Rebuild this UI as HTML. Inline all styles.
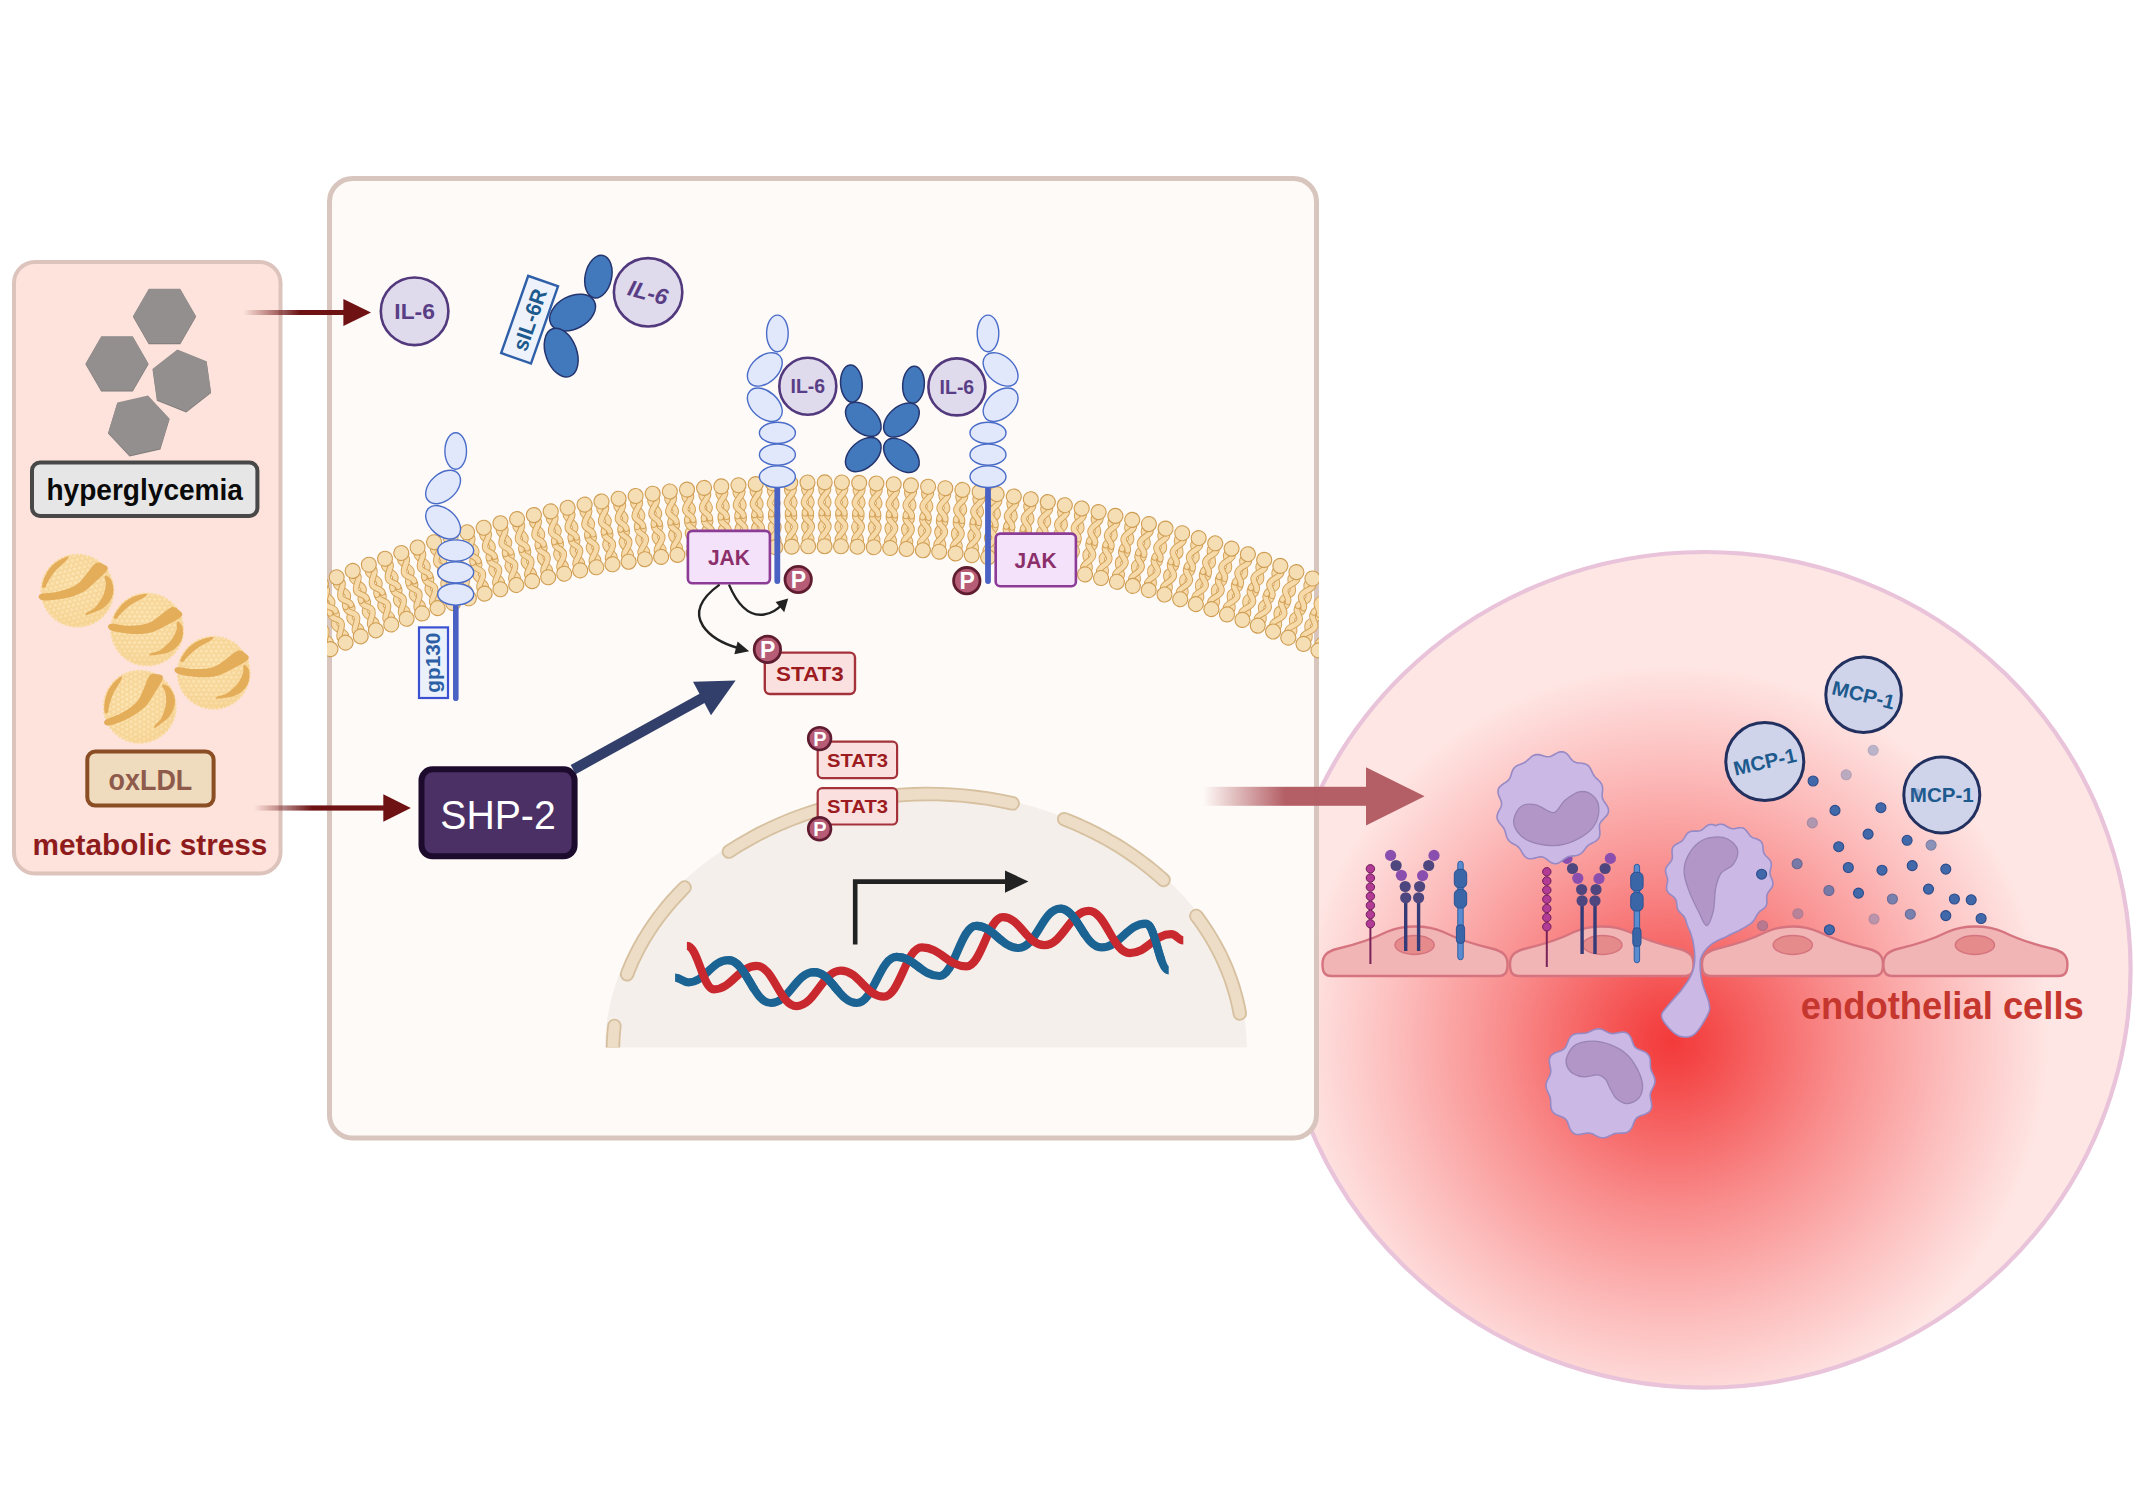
<!DOCTYPE html>
<html><head><meta charset="utf-8"><title>SHP-2 / IL-6 signalling under metabolic stress</title>
<style>
html,body{margin:0;padding:0;background:#ffffff;}
body{width:2141px;height:1498px;overflow:hidden;}
svg{display:block;}
text{font-family:"Liberation Sans",sans-serif;}
.b{font-weight:bold;}
</style></head><body>
<svg width="2141" height="1498" viewBox="0 0 2141 1498">
<defs>
<radialGradient id="glow" gradientUnits="userSpaceOnUse" cx="1672" cy="1042" r="375">
<stop offset="0" stop-color="#f33a3b"/><stop offset="0.08" stop-color="#f44646"/><stop offset="0.45" stop-color="#f98d8d"/><stop offset="0.75" stop-color="#fcbfbe"/><stop offset="1" stop-color="#fee5e3"/></radialGradient>
<clipPath id="circClip"><ellipse cx="1704.6" cy="969.8" rx="425" ry="416.8"/></clipPath>
<linearGradient id="fadeR1" gradientUnits="userSpaceOnUse" x1="243" y1="0" x2="300" y2="0"><stop offset="0" stop-color="#6e1214" stop-opacity="0"/><stop offset="1" stop-color="#6e1214"/></linearGradient>
<linearGradient id="fadeR2" gradientUnits="userSpaceOnUse" x1="254" y1="0" x2="312" y2="0"><stop offset="0" stop-color="#6e1214" stop-opacity="0"/><stop offset="1" stop-color="#6e1214"/></linearGradient>
<linearGradient id="fadeBig" gradientUnits="userSpaceOnUse" x1="1203" y1="0" x2="1285" y2="0"><stop offset="0" stop-color="#b25b62" stop-opacity="0"/><stop offset="1" stop-color="#b25b62"/></linearGradient>
<clipPath id="cellClip"><rect x="327" y="176" width="992" height="965"/></clipPath>
<radialGradient id="ldlG" cx="0.45" cy="0.4" r="0.65"><stop offset="0" stop-color="#fde7b6"/><stop offset="0.7" stop-color="#fbe0aa"/><stop offset="1" stop-color="#f8d89c"/></radialGradient>
<pattern id="bub" width="5" height="8.66" patternUnits="userSpaceOnUse"><circle cx="0" cy="0" r="2.3" fill="none" stroke="#f2cb85" stroke-width="0.6"/><circle cx="5" cy="0" r="2.3" fill="none" stroke="#f2cb85" stroke-width="0.6"/><circle cx="2.5" cy="4.33" r="2.3" fill="none" stroke="#f2cb85" stroke-width="0.6"/><circle cx="0" cy="8.66" r="2.3" fill="none" stroke="#f2cb85" stroke-width="0.6"/><circle cx="5" cy="8.66" r="2.3" fill="none" stroke="#f2cb85" stroke-width="0.6"/></pattern>
<g id="ldl"><circle r="35.3" fill="#fadda4" stroke="#f8d99e" stroke-width="3.6" stroke-dasharray="0.01 3.96" stroke-linecap="round"/><circle r="35.6" fill="url(#ldlG)"/><circle r="35.6" fill="url(#bub)"/><path d="M-37,-5.5C-34,-6.3 -24.7,-3.6 -18.5,-3.7C-12.3,-3.8 -5.2,-4.2 0,-5.9C5.2,-7.6 8.9,-11.3 12.9,-14.1C17,-16.8 21.3,-21.3 24.4,-22.2C27.6,-23.1 30.2,-20.7 31.8,-19.2C33.5,-17.8 36.6,-15.9 34.4,-13.3C32.2,-10.7 23.6,-6.4 18.5,-3.7C13.4,-1 9.2,1.6 3.7,3C-1.8,4.3 -8.1,4.8 -14.8,4.4C-21.5,4.1 -32.6,2.4 -36.3,0.7C-40,-0.9 -40,-4.8 -37,-5.5Z" fill="#e4ad5a"/><path d="M-33.4,-12.1C-33.4,-13.3 -31.8,-16 -30.8,-17.8C-29.7,-19.5 -28.5,-21.3 -27.2,-22.8C-25.9,-24.4 -24.4,-25.9 -22.8,-27.2C-21.3,-28.5 -19.5,-29.7 -17.8,-30.8C-16,-31.8 -14.1,-32.7 -12.1,-33.4C-10.2,-34.1 -8.2,-34.6 -6.2,-35C-4.1,-35.3 -0.4,-36 -0,-35.5C0.4,-35 -0.9,-33.7 -3.7,-31.8C-6.5,-30 -12.8,-27.1 -16.7,-24.4C-20.5,-21.7 -24.4,-17.8 -26.6,-15.5C-28.9,-13.3 -29.2,-11.7 -30.3,-11.1C-31.5,-10.5 -33.3,-11 -33.4,-12.1Z" fill="#e4ad5a"/><path d="M30.7,-8.1C31.6,-7.7 34.4,-5.6 35.1,-3C35.9,-0.4 36.1,4.2 35.3,7.4C34.6,10.6 33.2,13.6 30.7,16.3C28.2,18.9 24.9,21.7 20.4,23.3C15.8,24.9 6.5,25.8 3.7,25.9C0.9,26 2.1,24.6 3.7,23.7C5.3,22.8 10,22.4 13.3,20.4C16.6,18.3 21,14.4 23.7,11.1C26.3,7.8 28.2,3.5 29.2,0.7C30.2,-2 29.4,-4.1 29.6,-5.5C29.8,-7 29.8,-8.6 30.7,-8.1Z" fill="#e4ad5a"/></g>
<g id="L"><g fill="none" stroke-linecap="round"><path d="M-3,6C-4.8,11 4.3,14.5 3.6,20.5C3.1,25 -3.3,26 -3,30.8" stroke="#d3a158" stroke-width="6.5"/><path d="M-3,6C-4.8,11 4.3,14.5 3.6,20.5C3.1,25 -3.3,26 -3,30.8" stroke="#f6daa9" stroke-width="4.6"/><path d="M3.2,6C4.8,10.5 -4.5,14.5 -3.8,20.5C-3.3,25 3.1,26 3,30.8" stroke="#d3a158" stroke-width="6.5"/><path d="M3.2,6C4.8,10.5 -4.5,14.5 -3.8,20.5C-3.3,25 3.1,26 3,30.8" stroke="#f6daa9" stroke-width="4.6"/></g><circle r="7.5" fill="#f5ddb4" stroke="#cf9d52" stroke-width="1.1"/></g>
<g id="gpL" fill="#e1e8fb" stroke="#4a6cc9" stroke-width="1.4"><ellipse cx="0" cy="-154.5" rx="10.8" ry="18.3"/><ellipse cx="-12.6" cy="-118.5" rx="20.2" ry="13.2" transform="rotate(-42 -12.6 -118.5)"/><ellipse cx="-12.6" cy="-83.2" rx="20.2" ry="13.2" transform="rotate(42 -12.6 -83.2)"/><ellipse cx="0" cy="-55" rx="18" ry="10.6"/><ellipse cx="0" cy="-33.2" rx="18" ry="10.6"/><ellipse cx="0" cy="-11.2" rx="18" ry="10.8"/></g>
<g id="P14"><circle r="13.2" fill="#b65c77" stroke="#5f1c30" stroke-width="2.8"/><text x="0.3" y="8.2" font-size="23" font-weight="bold" fill="#ffffff" text-anchor="middle">P</text></g>
<g id="P12"><circle r="11.4" fill="#b65c77" stroke="#5f1c30" stroke-width="2.6"/><text x="0.2" y="7.2" font-size="20" font-weight="bold" fill="#ffffff" text-anchor="middle">P</text></g>
</defs>
<ellipse cx="1704.6" cy="969.8" rx="426" ry="417.8" fill="#fee6e4"/>
<circle cx="1672" cy="1042" r="375" fill="url(#glow)" clip-path="url(#circClip)"/>
<ellipse cx="1704.6" cy="969.8" rx="426" ry="417.8" fill="none" stroke="#e9c3d9" stroke-width="4.2"/>
<rect x="14" y="262" width="266.5" height="611.5" rx="21" ry="21" fill="#fee3dc" stroke="#dcc4bd" stroke-width="4"/>
<polygon points="196.1,316.8 180.3,344.2 148.7,344.2 132.9,316.8 148.7,289.4 180.3,289.4" fill="#7f7b7a"/><polygon points="195.9,316 180.2,343.2 148.8,343.2 133.1,316 148.8,288.8 180.2,288.8" fill="#938f8e"/>
<polygon points="148.6,364.2 132.8,391.6 101.2,391.6 85.4,364.2 101.2,336.8 132.8,336.8" fill="#7f7b7a"/><polygon points="148.4,363.4 132.7,390.6 101.3,390.6 85.6,363.4 101.3,336.2 132.7,336.2" fill="#938f8e"/>
<polygon points="211.1,393.1 186.2,412.6 156.9,400.8 152.5,369.5 177.4,350 206.7,361.8" fill="#7f7b7a"/><polygon points="210.9,392.3 186.2,411.6 157.1,399.8 152.7,368.7 177.4,349.4 206.5,361.2" fill="#938f8e"/>
<polygon points="169.6,419.3 160.4,449.5 129.6,456.6 108,433.5 117.2,403.3 148,396.2" fill="#7f7b7a"/><polygon points="169.4,418.5 160.2,448.6 129.6,455.6 108.2,432.7 117.4,402.6 148,395.6" fill="#938f8e"/>
<rect x="32" y="462.6" width="225.4" height="53.4" rx="8" ry="8" fill="#e6e6e6" stroke="#484848" stroke-width="4"/>
<text x="144.7" y="500" font-size="29.5" fill="#0a0a0a" text-anchor="middle" font-weight="bold" textLength="196.6" lengthAdjust="spacingAndGlyphs">hyperglycemia</text>
<use href="#ldl" transform="translate(77.4 590.7) rotate(-14)"/>
<use href="#ldl" transform="translate(147.2 629.5) rotate(0)"/>
<use href="#ldl" transform="translate(213.7 672.8) rotate(0)"/>
<use href="#ldl" transform="translate(139.8 706.8) rotate(-30)"/>
<rect x="87.3" y="751.6" width="126.3" height="54" rx="8" ry="8" fill="#efdbbd" stroke="#8a4d24" stroke-width="4"/>
<text x="150.4" y="790" font-size="30" fill="#8d5a4b" text-anchor="middle" font-weight="bold" textLength="83.7" lengthAdjust="spacingAndGlyphs">oxLDL</text>
<text x="150" y="855.4" font-size="29.5" fill="#8f1c1d" text-anchor="middle" font-weight="bold" textLength="234.8" lengthAdjust="spacingAndGlyphs">metabolic stress</text>
<rect x="329.5" y="178.5" width="987" height="959.5" rx="23" ry="23" fill="#fefaf7" stroke="#d8c6be" stroke-width="5"/>
<g clip-path="url(#cellClip)">
<use href="#L" transform="translate(330.4 649.1) rotate(156.40)"/><use href="#L" transform="translate(345.5 642.6) rotate(157.16)"/><use href="#L" transform="translate(360.7 636.4) rotate(157.93)"/><use href="#L" transform="translate(375.9 630.3) rotate(158.69)"/><use href="#L" transform="translate(391.2 624.5) rotate(159.45)"/><use href="#L" transform="translate(406.6 618.8) rotate(160.22)"/><use href="#L" transform="translate(422.1 613.4) rotate(160.98)"/><use href="#L" transform="translate(437.6 608.1) rotate(161.74)"/><use href="#L" transform="translate(453.2 603.1) rotate(162.51)"/><use href="#L" transform="translate(468.9 598.3) rotate(163.27)"/><use href="#L" transform="translate(484.6 593.6) rotate(164.04)"/><use href="#L" transform="translate(500.4 589.2) rotate(164.80)"/><use href="#L" transform="translate(516.3 585) rotate(165.56)"/><use href="#L" transform="translate(532.2 581.1) rotate(166.33)"/><use href="#L" transform="translate(548.2 577.3) rotate(167.09)"/><use href="#L" transform="translate(564.2 573.7) rotate(167.85)"/><use href="#L" transform="translate(580.2 570.4) rotate(168.62)"/><use href="#L" transform="translate(596.3 567.3) rotate(169.38)"/><use href="#L" transform="translate(612.5 564.3) rotate(170.15)"/><use href="#L" transform="translate(628.6 561.7) rotate(170.91)"/><use href="#L" transform="translate(644.9 559.2) rotate(171.67)"/><use href="#L" transform="translate(661.1 556.9) rotate(172.44)"/><use href="#L" transform="translate(677.4 554.9) rotate(173.20)"/><use href="#L" transform="translate(693.7 553) rotate(173.96)"/><use href="#L" transform="translate(710 551.4) rotate(174.73)"/><use href="#L" transform="translate(726.3 550) rotate(175.49)"/><use href="#L" transform="translate(742.7 548.8) rotate(176.26)"/><use href="#L" transform="translate(759 547.9) rotate(177.02)"/><use href="#L" transform="translate(775.4 547.1) rotate(177.78)"/><use href="#L" transform="translate(791.8 546.6) rotate(178.55)"/><use href="#L" transform="translate(808.2 546.3) rotate(179.31)"/><use href="#L" transform="translate(824.6 546.2) rotate(180.08)"/><use href="#L" transform="translate(841 546.3) rotate(180.84)"/><use href="#L" transform="translate(857.4 546.7) rotate(181.60)"/><use href="#L" transform="translate(873.8 547.2) rotate(182.37)"/><use href="#L" transform="translate(890.2 548) rotate(183.13)"/><use href="#L" transform="translate(906.5 549) rotate(183.89)"/><use href="#L" transform="translate(922.9 550.3) rotate(184.66)"/><use href="#L" transform="translate(939.2 551.7) rotate(185.42)"/><use href="#L" transform="translate(955.6 553.4) rotate(186.19)"/><use href="#L" transform="translate(971.8 555.2) rotate(186.95)"/><use href="#L" transform="translate(988.1 557.3) rotate(187.71)"/><use href="#L" transform="translate(1004.3 559.6) rotate(188.48)"/><use href="#L" transform="translate(1020.6 562.2) rotate(189.24)"/><use href="#L" transform="translate(1036.7 564.9) rotate(190.00)"/><use href="#L" transform="translate(1052.9 567.9) rotate(190.77)"/><use href="#L" transform="translate(1068.9 571) rotate(191.53)"/><use href="#L" transform="translate(1085 574.4) rotate(192.30)"/><use href="#L" transform="translate(1101 578) rotate(193.06)"/><use href="#L" transform="translate(1116.9 581.8) rotate(193.82)"/><use href="#L" transform="translate(1132.8 585.9) rotate(194.59)"/><use href="#L" transform="translate(1148.7 590.1) rotate(195.35)"/><use href="#L" transform="translate(1164.5 594.5) rotate(196.11)"/><use href="#L" transform="translate(1180.2 599.2) rotate(196.88)"/><use href="#L" transform="translate(1195.8 604.1) rotate(197.64)"/><use href="#L" transform="translate(1211.4 609.1) rotate(198.41)"/><use href="#L" transform="translate(1227 614.4) rotate(199.17)"/><use href="#L" transform="translate(1242.4 619.9) rotate(199.93)"/><use href="#L" transform="translate(1257.8 625.6) rotate(200.70)"/><use href="#L" transform="translate(1273.1 631.5) rotate(201.46)"/><use href="#L" transform="translate(1288.3 637.6) rotate(202.23)"/><use href="#L" transform="translate(1303.5 643.9) rotate(202.99)"/><use href="#L" transform="translate(1318.5 650.4) rotate(203.75)"/>
<use href="#L" transform="translate(304.9 590.6) rotate(-23.60)"/><use href="#L" transform="translate(320.8 583.8) rotate(-22.84)"/><use href="#L" transform="translate(336.7 577.3) rotate(-22.07)"/><use href="#L" transform="translate(352.7 570.9) rotate(-21.31)"/><use href="#L" transform="translate(368.8 564.7) rotate(-20.55)"/><use href="#L" transform="translate(385 558.8) rotate(-19.78)"/><use href="#L" transform="translate(401.3 553) rotate(-19.02)"/><use href="#L" transform="translate(417.6 547.5) rotate(-18.26)"/><use href="#L" transform="translate(434.1 542.2) rotate(-17.49)"/><use href="#L" transform="translate(450.5 537.2) rotate(-16.73)"/><use href="#L" transform="translate(467.1 532.3) rotate(-15.96)"/><use href="#L" transform="translate(483.7 527.7) rotate(-15.20)"/><use href="#L" transform="translate(500.4 523.3) rotate(-14.44)"/><use href="#L" transform="translate(517.1 519.1) rotate(-13.67)"/><use href="#L" transform="translate(533.9 515.1) rotate(-12.91)"/><use href="#L" transform="translate(550.7 511.4) rotate(-12.15)"/><use href="#L" transform="translate(567.6 507.8) rotate(-11.38)"/><use href="#L" transform="translate(584.6 504.6) rotate(-10.62)"/><use href="#L" transform="translate(601.5 501.5) rotate(-9.85)"/><use href="#L" transform="translate(618.6 498.7) rotate(-9.09)"/><use href="#L" transform="translate(635.6 496) rotate(-8.33)"/><use href="#L" transform="translate(652.7 493.7) rotate(-7.56)"/><use href="#L" transform="translate(669.8 491.5) rotate(-6.80)"/><use href="#L" transform="translate(687 489.6) rotate(-6.04)"/><use href="#L" transform="translate(704.1 487.9) rotate(-5.27)"/><use href="#L" transform="translate(721.3 486.4) rotate(-4.51)"/><use href="#L" transform="translate(738.5 485.2) rotate(-3.74)"/><use href="#L" transform="translate(755.7 484.1) rotate(-2.98)"/><use href="#L" transform="translate(773 483.4) rotate(-2.22)"/><use href="#L" transform="translate(790.2 482.8) rotate(-1.45)"/><use href="#L" transform="translate(807.5 482.5) rotate(-0.69)"/><use href="#L" transform="translate(824.7 482.4) rotate(0.08)"/><use href="#L" transform="translate(841.9 482.5) rotate(0.84)"/><use href="#L" transform="translate(859.2 482.9) rotate(1.60)"/><use href="#L" transform="translate(876.4 483.5) rotate(2.37)"/><use href="#L" transform="translate(893.7 484.3) rotate(3.13)"/><use href="#L" transform="translate(910.9 485.4) rotate(3.89)"/><use href="#L" transform="translate(928.1 486.7) rotate(4.66)"/><use href="#L" transform="translate(945.3 488.2) rotate(5.42)"/><use href="#L" transform="translate(962.4 489.9) rotate(6.19)"/><use href="#L" transform="translate(979.6 491.9) rotate(6.95)"/><use href="#L" transform="translate(996.7 494.1) rotate(7.71)"/><use href="#L" transform="translate(1013.8 496.5) rotate(8.48)"/><use href="#L" transform="translate(1030.8 499.2) rotate(9.24)"/><use href="#L" transform="translate(1047.8 502.1) rotate(10.00)"/><use href="#L" transform="translate(1064.8 505.2) rotate(10.77)"/><use href="#L" transform="translate(1081.7 508.5) rotate(11.53)"/><use href="#L" transform="translate(1098.6 512.1) rotate(12.30)"/><use href="#L" transform="translate(1115.4 515.9) rotate(13.06)"/><use href="#L" transform="translate(1132.2 519.9) rotate(13.82)"/><use href="#L" transform="translate(1148.9 524.1) rotate(14.59)"/><use href="#L" transform="translate(1165.6 528.6) rotate(15.35)"/><use href="#L" transform="translate(1182.2 533.2) rotate(16.11)"/><use href="#L" transform="translate(1198.7 538.1) rotate(16.88)"/><use href="#L" transform="translate(1215.2 543.3) rotate(17.64)"/><use href="#L" transform="translate(1231.6 548.6) rotate(18.41)"/><use href="#L" transform="translate(1247.9 554.2) rotate(19.17)"/><use href="#L" transform="translate(1264.2 559.9) rotate(19.93)"/><use href="#L" transform="translate(1280.3 565.9) rotate(20.70)"/><use href="#L" transform="translate(1296.4 572.1) rotate(21.46)"/><use href="#L" transform="translate(1312.5 578.5) rotate(22.23)"/><use href="#L" transform="translate(1328.4 585.2) rotate(22.99)"/><use href="#L" transform="translate(1344.2 592) rotate(23.75)"/>
</g>
<circle cx="414.6" cy="311.3" r="33.8" fill="#dfdaec" stroke="#52397d" stroke-width="2.6"/><text x="414.6" y="319.4" font-size="22.5" fill="#593e86" text-anchor="middle" font-weight="bold" textLength="40.6" lengthAdjust="spacingAndGlyphs">IL-6</text>
<g transform="rotate(-70.7 529.6 319.7)"><rect x="488.7" y="303.9" width="81.8" height="31.6" fill="#eef3fb" stroke="#2f5fa8" stroke-width="2.4"/><text x="529.6" y="327.3" font-size="21.5" fill="#1d5a8e" text-anchor="middle" font-weight="bold" textLength="64" lengthAdjust="spacingAndGlyphs">sIL-6R</text>
</g>
<g fill="#4279bd" stroke="#24356f" stroke-width="1.5"><ellipse cx="598.4" cy="276.6" rx="13.2" ry="21.6" transform="rotate(12 598.4 276.6)"/><ellipse cx="572.6" cy="312.6" rx="24.5" ry="16.3" transform="rotate(-28 572.6 312.6)"/><ellipse cx="561.2" cy="352.6" rx="15.5" ry="25.3" transform="rotate(-20 561.2 352.6)"/></g>
<circle cx="648.1" cy="292.3" r="34.2" fill="#dfdaec" stroke="#52397d" stroke-width="2.6"/><text x="648.1" y="300.4" font-size="22.5" fill="#593e86" text-anchor="middle" font-weight="bold" textLength="40.6" lengthAdjust="spacingAndGlyphs" transform="rotate(15 648.1 292.3)" font-style="italic">IL-6</text>
<rect x="453" y="600" width="5.6" height="101" rx="2.8" fill="#4a62c4"/><use href="#gpL" transform="translate(455.7 605.5)"/>
<rect x="419" y="627.4" width="29" height="70.6" fill="#eaf1fb" stroke="#3c50d2" stroke-width="2.2"/><text x="433.5" y="662.7" font-size="19.5" fill="#2c5fa6" text-anchor="middle" font-weight="bold" textLength="60" lengthAdjust="spacingAndGlyphs" transform="rotate(-90 433.5 662.7)" dy="6.5">gp130</text>

<rect x="774.4" y="484" width="5.8" height="100" rx="2.9" fill="#4a62c4"/><rect x="985.1" y="484" width="5.8" height="100" rx="2.9" fill="#4a62c4"/><use href="#gpL" transform="translate(777.4 487.9)"/><use href="#gpL" transform="translate(988 487.9) scale(-1 1)"/>
<g fill="#4279bd" stroke="#24356f" stroke-width="1.5"><ellipse cx="851.4" cy="383.6" rx="10.8" ry="18.6" transform="rotate(-4 851.4 383.6)"/><ellipse cx="863.3" cy="419.3" rx="20.8" ry="13.2" transform="rotate(42 863.3 419.3)"/><ellipse cx="863.3" cy="454.6" rx="20.8" ry="13.2" transform="rotate(-42 863.3 454.6)"/><ellipse cx="913.5" cy="384.7" rx="10.8" ry="18.6" transform="rotate(4 913.5 384.7)"/><ellipse cx="901.4" cy="420" rx="20.8" ry="13.2" transform="rotate(-42 901.4 420)"/><ellipse cx="901.4" cy="455.4" rx="20.8" ry="13.2" transform="rotate(42 901.4 455.4)"/></g>
<circle cx="807.8" cy="386.3" r="28.5" fill="#dfdaec" stroke="#52397d" stroke-width="2.6"/><text x="807.8" y="393.3" font-size="19.5" fill="#593e86" text-anchor="middle" font-weight="bold" textLength="34.6" lengthAdjust="spacingAndGlyphs">IL-6</text>
<circle cx="956.9" cy="386.9" r="28.5" fill="#dfdaec" stroke="#52397d" stroke-width="2.6"/><text x="956.9" y="393.9" font-size="19.5" fill="#593e86" text-anchor="middle" font-weight="bold" textLength="34.6" lengthAdjust="spacingAndGlyphs">IL-6</text>
<clipPath id="nucClip"><rect x="590" y="760" width="680" height="287.4"/></clipPath>
<g clip-path="url(#nucClip)"><ellipse cx="926" cy="1050" rx="321" ry="258" fill="#f4efeb"/><path d="M613,1054.5L613,1053.3L613,1052.1L613,1050.9L613,1049.7L613,1048.5L613,1047.3L613,1046.1L613.1,1044.9L613.1,1043.7L613.1,1042.6L613.2,1041.4L613.2,1040.2L613.3,1039L613.4,1037.8L613.4,1036.6L613.5,1035.4L613.6,1034.2L613.7,1033L613.8,1031.8L613.9,1030.7L614,1029.5L614.1,1028.3L614.3,1027.1L614.4,1025.9" fill="none" stroke="#d6c09f" stroke-width="14.4" stroke-linecap="round"/><path d="M627.1,974.3L628.6,970.4L630.3,966.4L631.9,962.5L633.7,958.7L635.6,954.8L637.5,951L639.5,947.2L641.6,943.4L643.7,939.7L646,936L648.3,932.3L650.6,928.6L653.1,925L655.6,921.4L658.2,917.9L660.9,914.3L663.6,910.9L666.4,907.4L669.3,904L672.2,900.6L675.2,897.3L678.3,894L681.4,890.7L684.6,887.5" fill="none" stroke="#d6c09f" stroke-width="14.4" stroke-linecap="round"/><path d="M728.9,851.6L738.8,845.3L749,839.4L759.4,833.7L770.2,828.4L781.2,823.5L792.4,818.9L803.8,814.7L815.5,810.9L827.3,807.4L839.2,804.4L851.4,801.7L863.6,799.4L875.9,797.5L888.3,796L900.8,795L913.3,794.3L925.9,794L938.4,794.1L951,794.7L963.5,795.6L975.9,797L988.3,798.7L1000.6,800.9L1012.7,803.4" fill="none" stroke="#d6c09f" stroke-width="14.4" stroke-linecap="round"/><path d="M1064.1,819.1L1068.8,821L1073.5,822.9L1078.1,824.9L1082.6,827L1087.2,829.1L1091.6,831.3L1096.1,833.5L1100.5,835.8L1104.8,838.1L1109.1,840.6L1113.4,843L1117.6,845.5L1121.7,848.1L1125.8,850.8L1129.8,853.5L1133.8,856.2L1137.8,859L1141.6,861.9L1145.4,864.8L1149.2,867.7L1152.9,870.7L1156.5,873.8L1160.1,876.9L1163.6,880" fill="none" stroke="#d6c09f" stroke-width="14.4" stroke-linecap="round"/><path d="M1196.3,915.9L1199.1,919.6L1201.8,923.4L1204.4,927.2L1206.9,931L1209.4,934.9L1211.7,938.8L1214,942.7L1216.2,946.7L1218.3,950.7L1220.4,954.7L1222.3,958.8L1224.2,962.9L1226,967L1227.7,971.1L1229.3,975.3L1230.8,979.4L1232.2,983.6L1233.6,987.9L1234.8,992.1L1236,996.3L1237.1,1000.6L1238.1,1004.9L1239,1009.2L1239.8,1013.5" fill="none" stroke="#d6c09f" stroke-width="14.4" stroke-linecap="round"/><path d="M613,1054.5L613,1053.3L613,1052.1L613,1050.9L613,1049.7L613,1048.5L613,1047.3L613,1046.1L613.1,1044.9L613.1,1043.7L613.1,1042.6L613.2,1041.4L613.2,1040.2L613.3,1039L613.4,1037.8L613.4,1036.6L613.5,1035.4L613.6,1034.2L613.7,1033L613.8,1031.8L613.9,1030.7L614,1029.5L614.1,1028.3L614.3,1027.1L614.4,1025.9" fill="none" stroke="#eddcc6" stroke-width="10.8" stroke-linecap="round"/><path d="M627.1,974.3L628.6,970.4L630.3,966.4L631.9,962.5L633.7,958.7L635.6,954.8L637.5,951L639.5,947.2L641.6,943.4L643.7,939.7L646,936L648.3,932.3L650.6,928.6L653.1,925L655.6,921.4L658.2,917.9L660.9,914.3L663.6,910.9L666.4,907.4L669.3,904L672.2,900.6L675.2,897.3L678.3,894L681.4,890.7L684.6,887.5" fill="none" stroke="#eddcc6" stroke-width="10.8" stroke-linecap="round"/><path d="M728.9,851.6L738.8,845.3L749,839.4L759.4,833.7L770.2,828.4L781.2,823.5L792.4,818.9L803.8,814.7L815.5,810.9L827.3,807.4L839.2,804.4L851.4,801.7L863.6,799.4L875.9,797.5L888.3,796L900.8,795L913.3,794.3L925.9,794L938.4,794.1L951,794.7L963.5,795.6L975.9,797L988.3,798.7L1000.6,800.9L1012.7,803.4" fill="none" stroke="#eddcc6" stroke-width="10.8" stroke-linecap="round"/><path d="M1064.1,819.1L1068.8,821L1073.5,822.9L1078.1,824.9L1082.6,827L1087.2,829.1L1091.6,831.3L1096.1,833.5L1100.5,835.8L1104.8,838.1L1109.1,840.6L1113.4,843L1117.6,845.5L1121.7,848.1L1125.8,850.8L1129.8,853.5L1133.8,856.2L1137.8,859L1141.6,861.9L1145.4,864.8L1149.2,867.7L1152.9,870.7L1156.5,873.8L1160.1,876.9L1163.6,880" fill="none" stroke="#eddcc6" stroke-width="10.8" stroke-linecap="round"/><path d="M1196.3,915.9L1199.1,919.6L1201.8,923.4L1204.4,927.2L1206.9,931L1209.4,934.9L1211.7,938.8L1214,942.7L1216.2,946.7L1218.3,950.7L1220.4,954.7L1222.3,958.8L1224.2,962.9L1226,967L1227.7,971.1L1229.3,975.3L1230.8,979.4L1232.2,983.6L1233.6,987.9L1234.8,992.1L1236,996.3L1237.1,1000.6L1238.1,1004.9L1239,1009.2L1239.8,1013.5" fill="none" stroke="#eddcc6" stroke-width="10.8" stroke-linecap="round"/></g>
<path d="M855.2,944.5V881.6H1006" fill="none" stroke="#222222" stroke-width="4.6" stroke-linejoin="miter"/><polygon points="1005,870.4 1028.4,881.6 1005,892.8" fill="#222222"/>
<path d="M675.1,977.6C680.7,977.6 682.9,982.3 688.5,982.3C705.1,982.3 711.5,960.1 728.2,960.1C746.2,960.1 753,1003 771,1003C789,1003 795.9,972.2 813.9,972.2C831.9,972.2 838.8,1003 856.8,1003C873.5,1003 879.8,956.9 896.5,956.9C914.5,956.9 921.4,976 939.4,976C954.7,976 960.6,925.8 975.9,925.8C993.9,925.8 1000.8,948 1018.8,948C1036.1,948 1042.7,908.6 1060.1,908.6C1077.4,908.6 1084,947.4 1101.4,947.4C1120,947.4 1127.1,923.6 1145.8,923.6C1155.4,923.6 1159.1,970.3 1168.7,970.3" fill="none" stroke="#1b6393" stroke-width="8.2" stroke-linejoin="round"/><path d="M686.9,945.8C698.2,945.8 702.5,989.3 713.9,989.3C731.9,989.3 738.7,965.8 756.7,965.8C773.4,965.8 779.8,1006.1 796.4,1006.1C815.1,1006.1 822.2,970.6 840.9,970.6C858.9,970.6 865.8,996.6 883.8,996.6C899.8,996.6 905.9,947.4 921.9,947.4C940.6,947.4 947.7,966.4 966.4,966.4C981.7,966.4 987.6,917.2 1002.9,917.2C1020.2,917.2 1026.8,945.2 1044.2,945.2C1062.9,945.2 1070,910.9 1088.7,910.9C1106,910.9 1112.6,953.1 1129.9,953.1C1147.3,953.1 1153.9,934.1 1171.2,934.1C1176.3,934.1 1178.2,940.4 1183.3,940.4" fill="none" stroke="#c9292e" stroke-width="8.2" stroke-linejoin="round"/>
<path d="M728.2,960.1L730.4,960.3L732.4,960.9L734.4,961.9L736.3,963.3L738.2,964.9L739.9,966.8L741.6,968.9L743.3,971.2L744.9,973.7L746.5,976.2L748,978.9L749.6,981.5L751.2,984.2L752.7,986.8L754.3,989.4" fill="none" stroke="#1b6393" stroke-width="8.2"/><path d="M811.7,972.3L813.9,972.2L816.1,972.3L818.2,972.8L820.2,973.5L822.1,974.4L823.9,975.6L825.7,977L827.4,978.5L829,980.2L830.6,981.9L832.2,983.8L833.8,985.6L835.4,987.6L836.9,989.5L838.5,991.4" fill="none" stroke="#1b6393" stroke-width="8.2"/><path d="M894.5,957.2L896.5,956.9L898.7,957L900.8,957.3L902.8,957.7L904.7,958.3L906.5,959.1L908.3,959.9L910,960.8L911.6,961.9L913.2,962.9L914.8,964.1L916.4,965.3L917.9,966.4L919.5,967.6L921.1,968.8" fill="none" stroke="#1b6393" stroke-width="8.2"/><path d="M975.9,925.8L978.1,925.9L980.2,926.2L982.2,926.7L984.1,927.4L985.9,928.3L987.7,929.3L989.4,930.4L991,931.6L992.6,932.8L994.2,934.2L995.8,935.5L997.3,936.9L998.9,938.3L1000.5,939.7L1002,941" fill="none" stroke="#1b6393" stroke-width="8.2"/><path d="M1060.1,908.6L1062.2,908.8L1064.2,909.4L1066.1,910.3L1067.9,911.5L1069.7,913L1071.4,914.7L1073,916.6L1074.6,918.7L1076.2,920.9L1077.7,923.2L1079.2,925.6L1080.7,928L1082.2,930.4L1083.7,932.8L1085.2,935.1" fill="none" stroke="#1b6393" stroke-width="8.2"/><path d="M1148.1,924.5L1149.2,925.6L1150.2,927L1151.2,928.8L1152.1,930.9L1153,933.2L1153.9,935.7L1154.7,938.3L1155.6,941.1L1156.4,944L1157.3,946.9L1158.1,949.8L1158.9,952.7L1159.8,955.5L1160.6,958.2L1161.5,960.7" fill="none" stroke="#1b6393" stroke-width="8.2"/>
<rect x="687.9" y="530.9" width="82" height="52.4" rx="4.5" ry="4.5" fill="#f3e2f9" stroke="#8c3c96" stroke-width="2.6"/><text x="728.9" y="565.4" font-size="22.5" fill="#8b2f6b" text-anchor="middle" font-weight="bold" textLength="42" lengthAdjust="spacingAndGlyphs">JAK</text>
<rect x="995.7" y="533.6" width="80.2" height="52.6" rx="4.5" ry="4.5" fill="#f3e2f9" stroke="#8c3c96" stroke-width="2.6"/><text x="1035.6" y="568.4" font-size="22.5" fill="#8b2f6b" text-anchor="middle" font-weight="bold" textLength="42" lengthAdjust="spacingAndGlyphs">JAK</text>

<use href="#P14" transform="translate(798.2 579.5)"/><use href="#P14" transform="translate(966.8 580.7)"/>
<path d="M729,584.6C738,606 750,616.5 764,614.5C772,613.3 778,609 782,604.5" fill="none" stroke="#222" stroke-width="2.4"/><polygon points="788.2,598.6 784.2,612.2 775.6,602" fill="#222"/><path d="M719.6,584.6C701,598 694,612 703,626C711,638 724,644 738,648" fill="none" stroke="#222" stroke-width="2.4"/><polygon points="749.2,651.2 734.4,654.2 737.6,641.6" fill="#222"/>
<rect x="764.8" y="652.6" width="90.2" height="41.4" rx="5" ry="5" fill="#fbe0e0" stroke="#a3323b" stroke-width="2.4"/><text x="809.8" y="681" font-size="20.5" fill="#9b1b20" text-anchor="middle" font-weight="bold" textLength="67.6" lengthAdjust="spacingAndGlyphs">STAT3</text>
<use href="#P14" transform="translate(767.4 649.4)"/>
<rect x="817.7" y="741.7" width="79.4" height="36.4" rx="4.5" ry="4.5" fill="#fbe0e0" stroke="#a3323b" stroke-width="2.2"/><text x="857.5" y="766.6" font-size="18.5" fill="#9b1b20" text-anchor="middle" font-weight="bold" textLength="61" lengthAdjust="spacingAndGlyphs">STAT3</text>
<rect x="817.7" y="788.1" width="79.4" height="36.4" rx="4.5" ry="4.5" fill="#fbe0e0" stroke="#a3323b" stroke-width="2.2"/><text x="857.5" y="813.4" font-size="18.5" fill="#9b1b20" text-anchor="middle" font-weight="bold" textLength="61" lengthAdjust="spacingAndGlyphs">STAT3</text>
<use href="#P12" transform="translate(819.6 738.6)"/><use href="#P12" transform="translate(819.6 828.8)"/>
<path d="M573.2,769.6L703.4,697.6" stroke="#323f6b" stroke-width="10.4" fill="none"/><polygon points="735.6,680.6 693,681.8 711,715.2" fill="#323f6b"/><rect x="421.5" y="769.3" width="153.1" height="87" rx="11" ry="11" fill="#4b3066" stroke="#1c0b2c" stroke-width="6"/><text x="498" y="829" font-size="41.5" fill="#ffffff" text-anchor="middle" textLength="115.4" lengthAdjust="spacingAndGlyphs">SHP-2</text>

<rect x="243" y="310" width="102" height="5" fill="url(#fadeR1)"/><polygon points="343.4,299 371,312.5 343.4,326" fill="#6e1214"/>
<rect x="254" y="805.4" width="131" height="5.2" fill="url(#fadeR2)"/><polygon points="383.3,794.3 410.8,808 383.3,821.7" fill="#6e1214"/>
<g opacity="0.97"><rect x="1203" y="786.8" width="164" height="19" fill="url(#fadeBig)"/><polygon points="1366,767.2 1424.6,796.3 1366,825.4" fill="#b25b62"/></g>
<path d="M1331.5,976C1324.5,976 1322.5,972 1322.5,964C1322.5,955 1327.5,951.5 1336.5,949C1362.5,943 1374.5,938 1386.5,932C1396.5,927.5 1407,926.5 1415,926.5C1423,926.5 1433.5,927.5 1443.5,932C1455.5,938 1467.5,943 1493.5,949C1502.5,951.5 1507.5,955 1507.5,964C1507.5,972 1505.5,976 1498.5,976Z" fill="#f0b5b4" stroke="#d5747f" stroke-width="2.4" stroke-linejoin="round"/><ellipse cx="1414.6" cy="945" rx="19.6" ry="9.4" fill="#e58b8c" stroke="#d5747f" stroke-width="1.5"/>
<path d="M1519,976C1512,976 1510,972 1510,964C1510,955 1515,951.5 1524,949C1550,943 1562,938 1574,932C1584,927.5 1593.8,926.5 1601.8,926.5C1609.8,926.5 1619.5,927.5 1629.5,932C1641.5,938 1653.5,943 1679.5,949C1688.5,951.5 1693.5,955 1693.5,964C1693.5,972 1691.5,976 1684.5,976Z" fill="#f0b5b4" stroke="#d5747f" stroke-width="2.4" stroke-linejoin="round"/><ellipse cx="1602.4" cy="945" rx="19.6" ry="9.4" fill="#e58b8c" stroke="#d5747f" stroke-width="1.5"/>
<path d="M1711,976C1704,976 1702,972 1702,964C1702,955 1707,951.5 1716,949C1742,943 1754,938 1766,932C1776,927.5 1784.5,926.5 1792.5,926.5C1800.5,926.5 1809,927.5 1819,932C1831,938 1843,943 1869,949C1878,951.5 1883,955 1883,964C1883,972 1881,976 1874,976Z" fill="#f0b5b4" stroke="#d5747f" stroke-width="2.4" stroke-linejoin="round"/><ellipse cx="1792.8" cy="945" rx="19.6" ry="9.4" fill="#e58b8c" stroke="#d5747f" stroke-width="1.5"/>
<path d="M1892.4,976C1885.4,976 1883.4,972 1883.4,964C1883.4,955 1888.4,951.5 1897.4,949C1923.4,943 1935.4,938 1947.4,932C1957.4,927.5 1967.4,926.5 1975.4,926.5C1983.4,926.5 1993.4,927.5 2003.4,932C2015.4,938 2027.4,943 2053.4,949C2062.4,951.5 2067.4,955 2067.4,964C2067.4,972 2065.4,976 2058.4,976Z" fill="#f0b5b4" stroke="#d5747f" stroke-width="2.4" stroke-linejoin="round"/><ellipse cx="1974.9" cy="945" rx="19.6" ry="9.4" fill="#e58b8c" stroke="#d5747f" stroke-width="1.5"/>
<g id="mol"><line x1="1370.4" y1="922" x2="1370.4" y2="964" stroke="#7a2358" stroke-width="2"/><circle cx="1370.4" cy="868.8" r="4.2" fill="#b23b96" stroke="#6e1d5a" stroke-width="1"/><circle cx="1370.4" cy="878" r="4.2" fill="#b23b96" stroke="#6e1d5a" stroke-width="1"/><circle cx="1370.4" cy="887.1" r="4.2" fill="#b23b96" stroke="#6e1d5a" stroke-width="1"/><circle cx="1370.4" cy="896.3" r="4.2" fill="#b23b96" stroke="#6e1d5a" stroke-width="1"/><circle cx="1370.4" cy="905.5" r="4.2" fill="#b23b96" stroke="#6e1d5a" stroke-width="1"/><circle cx="1370.4" cy="914.6" r="4.2" fill="#b23b96" stroke="#6e1d5a" stroke-width="1"/><circle cx="1370.4" cy="923.8" r="4.2" fill="#b23b96" stroke="#6e1d5a" stroke-width="1"/><path d="M1405.7,897V951M1418.6,897V951" stroke="#353b77" stroke-width="3.4" fill="none"/><circle cx="1405.7" cy="897.8" r="5.6" fill="#4e477f"/><circle cx="1418.6" cy="897.8" r="5.6" fill="#4e477f"/><circle cx="1405.2" cy="886.5" r="5.6" fill="#4e477f"/><circle cx="1419.6" cy="886.5" r="5.6" fill="#4e477f"/><circle cx="1396.1" cy="865.5" r="5.6" fill="#4e477f"/><circle cx="1428.7" cy="865.5" r="5.6" fill="#4e477f"/><circle cx="1401.4" cy="875.3" r="5.6" fill="#8a4fae"/><circle cx="1422.6" cy="875.6" r="5.6" fill="#8a4fae"/><circle cx="1390.6" cy="855.4" r="5.6" fill="#8a4fae"/><circle cx="1434" cy="855.4" r="5.6" fill="#8a4fae"/><rect x="1457.8" y="861.2" width="5.4" height="98.6" rx="2.7" fill="#5b8bd0" stroke="#2f5fa0" stroke-width="1"/><rect x="1454.3" y="869.3" width="12.4" height="18.6" rx="5" fill="#3a66a7" stroke="#2a5294" stroke-width="1"/><rect x="1454.3" y="889.4" width="12.4" height="18.6" rx="5" fill="#3a66a7" stroke="#2a5294" stroke-width="1"/><rect x="1456.4" y="924.8" width="8.2" height="18.6" rx="3.5" fill="#3a66a7" stroke="#2a5294" stroke-width="1"/></g>
<use href="#mol" transform="translate(176.4 3)"/>
<path d="M1607.9,807.5L1608.5,809.5L1608.5,811.5L1608,813.4L1607,815.2L1605.5,816.9L1603.9,818.5L1602.4,820.1L1601,821.6L1600.1,823.1L1599.5,824.8L1599.4,826.7L1599.5,828.7L1599.8,830.8L1599.9,833L1599.8,835.1L1599.3,837L1598.3,838.8L1597,840.2L1595.4,841.4L1593.6,842.4L1591.8,843.3L1590,844.2L1588.5,845.2L1587.1,846.5L1585.9,847.8L1584.7,849.4L1583.5,850.9L1582.3,852.4L1580.8,853.6L1579.2,854.6L1577.4,855.3L1575.5,855.7L1573.6,855.9L1571.6,856.1L1569.8,856.3L1568,856.8L1566.4,857.6L1564.8,858.7L1563.1,859.9L1561.5,861.3L1559.7,862.4L1557.9,863.3L1555.9,863.7L1554,863.6L1552,863L1550.1,861.9L1548.3,860.6L1546.6,859.2L1544.9,858.1L1543.2,857.2L1541.5,856.8L1539.7,856.9L1537.7,857.3L1535.6,857.9L1533.5,858.4L1531.3,858.8L1529.2,858.7L1527.3,858.2L1525.6,857.1L1524.2,855.7L1523,854L1521.9,852.1L1520.9,850.3L1519.8,848.7L1518.6,847.3L1517.3,846.1L1515.7,845.1L1514,844.2L1512.2,843.3L1510.6,842.2L1509.1,841L1508,839.5L1507.1,837.8L1506.4,836L1505.9,834.1L1505.4,832.3L1504.9,830.5L1504.1,828.8L1503.1,827.3L1501.9,825.7L1500.5,824.2L1499.2,822.6L1498.1,820.9L1497.3,819.1L1497,817.2L1497.2,815.2L1497.8,813.2L1498.7,811.2L1499.8,809.3L1500.7,807.5L1501.4,805.7L1501.6,804L1501.4,802.2L1500.8,800.3L1500,798.3L1499.1,796.3L1498.3,794.1L1498,792L1498.1,790L1498.8,788.1L1500,786.5L1501.6,785.1L1503.4,783.8L1505.3,782.6L1506.9,781.5L1508.4,780.2L1509.5,778.8L1510.3,777.2L1510.9,775.4L1511.5,773.5L1512.1,771.6L1512.9,769.7L1514,768.1L1515.3,766.8L1516.9,765.7L1518.7,764.9L1520.5,764.2L1522.3,763.5L1524,762.7L1525.6,761.8L1527.1,760.6L1528.5,759.3L1530,758L1531.5,756.7L1533.1,755.6L1534.9,754.9L1536.8,754.6L1538.8,754.6L1540.9,755.1L1542.9,755.7L1544.8,756.3L1546.7,756.7L1548.5,756.8L1550.2,756.5L1552,755.8L1553.8,754.8L1555.8,753.6L1557.8,752.6L1559.8,751.9L1561.8,751.7L1563.8,752L1565.6,752.9L1567.3,754.2L1568.8,755.9L1570.1,757.7L1571.4,759.4L1572.8,760.8L1574.3,761.8L1575.9,762.5L1577.8,762.9L1579.8,763L1581.9,763.2L1583.9,763.6L1585.8,764.2L1587.6,765.1L1589,766.4L1590.1,768L1591.1,769.8L1591.9,771.6L1592.7,773.3L1593.6,775L1594.7,776.5L1595.9,777.9L1597.3,779.2L1598.7,780.5L1600.1,781.9L1601.2,783.5L1602,785.2L1602.5,787.1L1602.6,789.1L1602.5,791.1L1602.3,793.1L1602.1,795L1602.2,796.8L1602.6,798.6L1603.4,800.3L1604.4,802L1605.7,803.7L1606.9,805.6Z" fill="#cbb8e4" stroke="#9689c4" stroke-width="1.6" stroke-linejoin="round"/><path d="M1514.1,818.1C1515,814.1 1518.1,808.2 1521.8,806C1525.4,803.8 1530.8,803.8 1536.1,804.9C1541.4,806 1548.9,813.3 1553.7,812.6C1558.5,811.9 1560.3,804 1564.7,800.5C1569.1,797 1575.4,792.4 1580.1,791.7C1584.9,790.9 1590.2,793.1 1593.3,796.1C1596.5,799 1598.9,804.2 1598.9,809.3C1598.9,814.4 1597.2,821.8 1593.3,826.9C1589.5,832.1 1582.3,837 1575.7,840.1C1569.1,843.3 1561.4,845.5 1553.7,845.6C1546,845.8 1535.7,843.8 1529.5,841.2C1523.2,838.7 1518.8,834.1 1516.3,830.2C1513.7,826.4 1513.1,822.1 1514.1,818.1Z" fill="#b196c7" stroke="#9a84b6" stroke-width="1.3"/>
<path d="M1654.7,1083.3L1654.2,1085.2L1653.3,1087L1652.4,1088.8L1651.5,1090.5L1650.8,1092.2L1650.4,1093.9L1650.2,1095.7L1650.4,1097.6L1650.8,1099.6L1651.2,1101.8L1651.6,1103.9L1651.7,1106.1L1651.4,1108.1L1650.6,1110L1649.4,1111.5L1647.8,1112.8L1645.8,1113.9L1643.7,1114.7L1641.6,1115.4L1639.6,1116.1L1637.9,1117L1636.5,1118.1L1635.4,1119.4L1634.5,1121.1L1633.8,1122.9L1633,1124.9L1632.2,1126.9L1631.2,1128.8L1629.9,1130.3L1628.4,1131.6L1626.6,1132.4L1624.7,1132.9L1622.7,1133.1L1620.6,1133.1L1618.6,1133.2L1616.7,1133.3L1614.9,1133.6L1613.2,1134.1L1611.5,1134.9L1609.7,1135.7L1608,1136.5L1606.2,1137.2L1604.3,1137.7L1602.4,1137.8L1600.5,1137.5L1598.6,1137L1596.8,1136.1L1595,1135.2L1593.3,1134.3L1591.6,1133.6L1589.9,1133.2L1588.1,1133L1586.2,1133.2L1584.2,1133.6L1582,1134L1579.9,1134.4L1577.7,1134.5L1575.7,1134.2L1573.8,1133.4L1572.3,1132.2L1571,1130.6L1569.9,1128.6L1569.1,1126.5L1568.4,1124.4L1567.7,1122.4L1566.8,1120.7L1565.7,1119.3L1564.4,1118.2L1562.7,1117.3L1560.9,1116.6L1558.9,1115.8L1556.9,1115L1555,1114L1553.5,1112.7L1552.2,1111.2L1551.4,1109.4L1550.9,1107.5L1550.7,1105.5L1550.7,1103.4L1550.6,1101.4L1550.5,1099.5L1550.2,1097.7L1549.7,1096L1548.9,1094.3L1548.1,1092.5L1547.3,1090.8L1546.6,1089L1546.1,1087.1L1546,1085.2L1546.3,1083.3L1546.8,1081.4L1547.7,1079.6L1548.6,1077.8L1549.5,1076.1L1550.2,1074.4L1550.6,1072.7L1550.8,1070.9L1550.6,1069L1550.2,1067L1549.8,1064.8L1549.4,1062.7L1549.3,1060.5L1549.6,1058.5L1550.4,1056.6L1551.6,1055.1L1553.2,1053.8L1555.2,1052.7L1557.3,1051.9L1559.4,1051.2L1561.4,1050.5L1563.1,1049.6L1564.5,1048.5L1565.6,1047.2L1566.5,1045.5L1567.2,1043.7L1568,1041.7L1568.8,1039.7L1569.8,1037.8L1571.1,1036.3L1572.6,1035L1574.4,1034.2L1576.3,1033.7L1578.3,1033.5L1580.4,1033.5L1582.4,1033.4L1584.3,1033.3L1586.1,1033L1587.8,1032.5L1589.5,1031.7L1591.3,1030.9L1593,1030.1L1594.8,1029.4L1596.7,1028.9L1598.6,1028.8L1600.5,1029.1L1602.4,1029.6L1604.2,1030.5L1606,1031.4L1607.7,1032.3L1609.4,1033L1611.1,1033.4L1612.9,1033.6L1614.8,1033.4L1616.8,1033L1619,1032.6L1621.1,1032.2L1623.3,1032.1L1625.3,1032.4L1627.2,1033.2L1628.7,1034.4L1630,1036L1631.1,1038L1631.9,1040.1L1632.6,1042.2L1633.3,1044.2L1634.2,1045.9L1635.3,1047.3L1636.6,1048.4L1638.3,1049.3L1640.1,1050L1642.1,1050.8L1644.1,1051.6L1646,1052.6L1647.5,1053.9L1648.8,1055.4L1649.6,1057.2L1650.1,1059.1L1650.3,1061.1L1650.3,1063.2L1650.4,1065.2L1650.5,1067.1L1650.8,1068.9L1651.3,1070.6L1652.1,1072.3L1652.9,1074.1L1653.7,1075.8L1654.4,1077.6L1654.9,1079.5L1655,1081.4Z" fill="#cbb8e4" stroke="#9689c4" stroke-width="1.6" stroke-linejoin="round"/><path d="M1567,1056.6C1568.4,1053 1571.3,1047.4 1575.5,1044.9C1579.8,1042.3 1586.8,1041.1 1592.6,1041.1C1598.5,1041.1 1605.1,1042.6 1610.8,1044.9C1616.5,1047.1 1622.4,1050.4 1626.8,1054.5C1631.3,1058.6 1634.9,1064.3 1637.5,1069.4C1640.1,1074.6 1642.4,1080.6 1642.6,1085.4C1642.8,1090.3 1641.2,1095.2 1638.6,1098.3C1635.9,1101.3 1630.5,1103.6 1626.8,1103.6C1623.1,1103.6 1619,1100.9 1616.1,1098.3C1613.3,1095.6 1611.5,1090.8 1609.7,1087.6C1607.9,1084.4 1607.4,1081.2 1605.4,1079C1603.5,1076.9 1601.5,1075.1 1598,1074.8C1594.4,1074.4 1588.2,1077.1 1584.1,1076.9C1580,1076.7 1576.3,1075.5 1573.4,1073.7C1570.6,1071.9 1568.1,1069.1 1567,1066.2C1565.9,1063.4 1565.6,1060.2 1567,1056.6Z" fill="#b196c7" stroke="#9a84b6" stroke-width="1.3"/>
<path d="M1715.6,825.8L1717,825.1L1718.5,824.5L1720.1,824.2L1721.7,824.2L1723.4,824.6L1725,825.3L1726.6,826.3L1728.2,827.2L1729.8,828.1L1731.4,828.6L1733.1,828.7L1734.8,828.6L1736.5,828.3L1738.2,827.9L1739.8,827.7L1741.4,827.7L1742.9,828.1L1744.2,828.7L1745.4,829.6L1746.4,830.7L1747.3,831.9L1748.2,833.1L1749,834.3L1749.8,835.4L1750.8,836.4L1751.8,837.1L1753,837.7L1754.3,838.2L1755.6,838.6L1757,839.1L1758.3,839.7L1759.6,840.3L1760.7,841.2L1761.5,842.2L1762.2,843.5L1762.6,844.8L1762.9,846.3L1763,847.8L1763.1,849.3L1763.3,850.7L1763.5,852L1764,853.3L1764.7,854.4L1765.5,855.5L1766.5,856.5L1767.6,857.5L1768.6,858.5L1769.5,859.6L1770.3,860.7L1770.9,861.8L1771.2,863.1L1771.3,864.3L1771.3,865.7L1771.1,867L1770.8,868.3L1770.4,869.7L1770.2,870.9L1770,872.2L1770,873.4L1770.2,874.6L1770.5,875.8L1771,877.1L1771.6,878.4L1772.2,879.8L1772.6,881.3L1772.9,882.8L1772.9,884.4L1772.6,885.9L1771.9,887.4L1770.9,888.8L1769.8,890.3L1768.7,891.6L1767.7,893.1L1767.1,894.5L1766.8,896.1L1766.7,897.8L1766.8,899.6L1766.9,901.3L1766.9,903.1L1766.6,904.7L1765.9,906.2L1764.9,907.5L1763.6,908.6L1762.2,909.6L1760.8,910.6L1759.5,911.7L1758.4,912.8L1757.5,914.1L1756.6,915.5L1755.9,916.9L1755.1,918.4L1754.3,919.8L1753.3,921L1752.3,922.2L1751.2,923.2L1750,924.1L1748.7,924.9L1747.5,925.7L1746.2,926.4L1745,927.2L1743.7,927.9L1742.5,928.6L1741.2,929.3L1740,930L1738.7,930.7L1737.4,931.3L1736.1,931.9L1734.8,932.5L1733.6,933L1732.3,933.6L1731.1,934.2L1729.9,934.8L1728.7,935.5L1727.6,936L1726.4,936.6L1725.2,937.2L1724,937.7L1722.8,938.2L1721.6,938.7L1720.5,939.3L1719.3,939.8L1718.2,940.3L1717.2,940.8L1716.1,941.4L1715.1,941.9L1714.1,942.5L1713.2,943L1712.3,943.7L1711.4,944.3L1710.6,944.9L1709.8,945.6L1709.1,946.3L1708.4,946.9L1707.7,947.6L1707,948.3L1706.4,949L1705.8,949.7L1705.2,950.4L1704.6,951.2L1704.1,951.9L1703.7,952.6L1703.2,953.3L1702.8,954L1702.4,954.7L1702,955.3L1701.7,956L1701.4,956.6L1701.2,957.3L1701,957.9L1700.8,958.5L1700.6,959.1L1700.5,959.8L1700.4,960.4L1700.3,961.1L1700.3,961.8L1700.2,962.5L1700.2,963.2L1700.2,964L1700.2,964.8L1700.2,965.7L1700.2,966.6L1700.2,967.6L1700.3,968.5L1700.3,969.6L1700.4,970.6L1700.5,971.7L1700.6,972.8L1700.7,973.9L1700.9,975.1L1701,976.2L1701.2,977.4L1701.4,978.6L1701.6,979.8L1701.9,981L1702.1,982.1L1702.4,983.3L1702.7,984.5L1703,985.7L1703.5,987L1703.9,988.3L1704.4,989.6L1704.9,991L1705.4,992.3L1705.9,993.6L1706.4,994.9L1706.9,996.2L1707.3,997.5L1707.8,998.7L1708.2,999.9L1708.5,1001.1L1708.8,1002.1L1709,1003.1L1709.2,1004L1709.3,1004.9L1709.4,1005.6L1709.5,1006.3L1709.6,1006.9L1709.7,1007.5L1709.7,1008.1L1709.7,1008.6L1709.6,1009.2L1709.5,1009.8L1709.4,1010.3L1709.2,1011L1709,1011.7L1708.7,1012.4L1708.3,1013.2L1707.9,1014.1L1707.4,1015.2L1706.8,1016.3L1706.2,1017.6L1705.4,1018.9L1704.7,1020.3L1703.8,1021.7L1702.9,1023.1L1702,1024.6L1701.1,1026L1700.2,1027.4L1699.2,1028.7L1698.3,1030L1697.3,1031.2L1696.4,1032.2L1695.5,1033.2L1694.7,1034L1693.8,1034.6L1693,1035.2L1692.2,1035.7L1691.3,1036.1L1690.5,1036.4L1689.6,1036.6L1688.8,1036.8L1687.9,1037L1687.1,1037L1686.2,1037.1L1685.4,1037.1L1684.6,1037L1683.8,1037L1683,1036.9L1682.2,1036.7L1681.5,1036.6L1680.7,1036.4L1680,1036.2L1679.2,1036L1678.5,1035.7L1677.8,1035.3L1677.1,1034.9L1676.4,1034.5L1675.7,1034.1L1675,1033.6L1674.3,1033.1L1673.6,1032.5L1673,1032L1672.3,1031.4L1671.7,1030.8L1671.1,1030.2L1670.4,1029.6L1669.8,1028.9L1669.1,1028.2L1668.4,1027.4L1667.7,1026.6L1667,1025.8L1666.3,1025L1665.6,1024.1L1664.9,1023.2L1664.3,1022.3L1663.7,1021.4L1663.2,1020.5L1662.7,1019.6L1662.3,1018.8L1662,1017.9L1661.8,1017.1L1661.6,1016.3L1661.6,1015.6L1661.7,1014.9L1661.8,1014.2L1662,1013.5L1662.3,1012.9L1662.7,1012.2L1663.1,1011.6L1663.6,1011L1664.1,1010.3L1664.6,1009.7L1665.2,1009L1665.8,1008.3L1666.4,1007.6L1667,1006.9L1667.6,1006.1L1668.2,1005.3L1668.9,1004.5L1669.6,1003.6L1670.4,1002.7L1671.2,1001.8L1672,1000.8L1672.9,999.9L1673.7,998.9L1674.6,997.9L1675.5,996.9L1676.4,995.9L1677.3,994.9L1678.2,993.9L1679.1,992.9L1679.9,991.9L1680.7,990.9L1681.5,989.9L1682.2,988.9L1682.9,988L1683.6,987L1684.3,986.1L1685,985.1L1685.7,984.1L1686.4,983.2L1687,982.2L1687.7,981.2L1688.3,980.3L1688.9,979.3L1689.4,978.3L1690,977.4L1690.5,976.4L1690.9,975.5L1691.4,974.5L1691.8,973.5L1692.1,972.6L1692.5,971.7L1692.8,970.7L1693.1,969.8L1693.3,968.9L1693.6,968L1693.8,967.1L1694,966.1L1694.1,965.2L1694.3,964.2L1694.4,963.2L1694.5,962.2L1694.6,961.2L1694.6,960.2L1694.7,959.1L1694.7,958L1694.7,956.8L1694.7,955.6L1694.6,954.4L1694.6,953.2L1694.5,952L1694.4,950.7L1694.3,949.4L1694.1,948.2L1693.9,946.9L1693.7,945.6L1693.5,944.3L1693.3,943L1693,941.8L1692.8,940.5L1692.5,939.3L1692.1,938L1691.8,936.8L1691.4,935.6L1691,934.3L1690.6,933.1L1690.2,931.9L1689.7,930.7L1689.2,929.5L1688.6,928.3L1688.1,927.1L1687.6,925.8L1687.1,924.5L1686.7,923.2L1686.3,921.8L1685.9,920.5L1685.4,919.1L1684.8,917.8L1683.9,916.5L1682.9,915.2L1681.7,914L1680.4,912.9L1679.3,911.6L1678.3,910.3L1677.5,908.8L1677.1,907.1L1676.9,905.3L1676.7,903.5L1676.5,901.9L1676.1,900.4L1675.4,899.1L1674.5,897.9L1673.5,896.9L1672.5,896.1L1671.4,895.2L1670.3,894.5L1669.4,893.7L1668.6,893L1667.9,892.1L1667.3,891.2L1666.9,890.3L1666.7,889.3L1666.6,888.2L1666.6,887.1L1666.7,886.1L1666.8,885L1667.1,883.9L1667.3,882.9L1667.5,881.8L1667.6,880.8L1667.6,879.7L1667.5,878.6L1667.2,877.4L1666.8,876.2L1666.4,874.9L1666,873.5L1665.7,872.1L1665.5,870.8L1665.6,869.4L1666,868.1L1666.5,866.9L1667.3,865.7L1668.3,864.6L1669.2,863.5L1670.2,862.4L1671,861.3L1671.7,860.1L1672.1,858.8L1672.3,857.5L1672.4,856L1672.2,854.5L1672.1,853L1672,851.4L1672.1,849.9L1672.4,848.5L1673,847.2L1673.8,846L1674.9,845L1676.2,844.2L1677.5,843.5L1678.8,842.9L1680,842.3L1681.1,841.6L1682.1,840.8L1683.1,839.8L1683.9,838.6L1684.7,837.3L1685.5,835.9L1686.4,834.5L1687.4,833.3L1688.6,832.4L1689.9,831.7L1691.4,831.3L1692.9,831.1L1694.4,831.1L1695.9,831.1L1697.3,831.1L1698.6,831L1699.8,830.8L1700.9,830.4L1701.9,829.8L1702.9,829.2L1703.8,828.4L1704.8,827.5L1705.7,826.7L1706.8,825.9L1707.9,825.3L1709,824.8L1710.2,824.5L1711.5,824.5L1712.8,824.6L1714.2,825Z" fill="#cbb8e4" stroke="#9689c4" stroke-width="1.6" stroke-linejoin="round"/><path d="M1712.3,837.3C1717.1,836.7 1723.5,836.9 1727.7,839C1731.9,841.2 1736.7,845.8 1737.6,850C1738.5,854.3 1736,860.5 1733.2,864.4C1730.5,868.2 1724,869.1 1721.1,873.2C1718.2,877.2 1716.9,882.3 1715.6,888.6C1714.3,894.8 1714.9,904.4 1713.4,910.6C1711.9,916.8 1709.2,925.2 1706.8,925.6C1704.4,926 1702.2,919 1699.1,912.8C1696,906.7 1690.6,895.6 1688.1,888.6C1685.6,881.6 1684.1,876.5 1684.1,871C1684.1,865.5 1685.6,860.3 1688.1,855.6C1690.6,850.8 1695,845.4 1699.1,842.3C1703.1,839.3 1707.5,837.8 1712.3,837.3Z" fill="#b196c7" stroke="#9a84b6" stroke-width="1.3"/>
<circle cx="1873.2" cy="750.3" r="5" fill="#4169aa" stroke="#2b4b8c" stroke-width="1.1" opacity="0.35"/><circle cx="1846.2" cy="774.8" r="5" fill="#4169aa" stroke="#2b4b8c" stroke-width="1.1" opacity="0.35"/><circle cx="1813.1" cy="781" r="5" fill="#4169aa" stroke="#2b4b8c" stroke-width="1.1"/><circle cx="1835" cy="810.4" r="5" fill="#4169aa" stroke="#2b4b8c" stroke-width="1.1"/><circle cx="1880.9" cy="807.7" r="5" fill="#4169aa" stroke="#2b4b8c" stroke-width="1.1"/><circle cx="1812.3" cy="822.9" r="5" fill="#4169aa" stroke="#2b4b8c" stroke-width="1.1" opacity="0.4"/><circle cx="1868.1" cy="834.1" r="5" fill="#4169aa" stroke="#2b4b8c" stroke-width="1.1"/><circle cx="1838.7" cy="846.7" r="5" fill="#4169aa" stroke="#2b4b8c" stroke-width="1.1"/><circle cx="1907.1" cy="840.3" r="5" fill="#4169aa" stroke="#2b4b8c" stroke-width="1.1"/><circle cx="1931.1" cy="845.1" r="5" fill="#4169aa" stroke="#2b4b8c" stroke-width="1.1" opacity="0.6"/><circle cx="1797.1" cy="863.8" r="5" fill="#4169aa" stroke="#2b4b8c" stroke-width="1.1" opacity="0.7"/><circle cx="1761.6" cy="874.2" r="5" fill="#4169aa" stroke="#2b4b8c" stroke-width="1.1"/><circle cx="1848.3" cy="867.5" r="5" fill="#4169aa" stroke="#2b4b8c" stroke-width="1.1"/><circle cx="1882" cy="870.2" r="5" fill="#4169aa" stroke="#2b4b8c" stroke-width="1.1"/><circle cx="1912.2" cy="865.6" r="5" fill="#4169aa" stroke="#2b4b8c" stroke-width="1.1"/><circle cx="1945.8" cy="869.1" r="5" fill="#4169aa" stroke="#2b4b8c" stroke-width="1.1"/><circle cx="1828.9" cy="890.5" r="5" fill="#4169aa" stroke="#2b4b8c" stroke-width="1.1" opacity="0.7"/><circle cx="1858.5" cy="893.1" r="5" fill="#4169aa" stroke="#2b4b8c" stroke-width="1.1"/><circle cx="1892.4" cy="899" r="5" fill="#4169aa" stroke="#2b4b8c" stroke-width="1.1" opacity="0.7"/><circle cx="1928.5" cy="889.1" r="5" fill="#4169aa" stroke="#2b4b8c" stroke-width="1.1"/><circle cx="1954.4" cy="899" r="5" fill="#4169aa" stroke="#2b4b8c" stroke-width="1.1"/><circle cx="1971.2" cy="899.8" r="5" fill="#4169aa" stroke="#2b4b8c" stroke-width="1.1"/><circle cx="1797.9" cy="913.7" r="5" fill="#4169aa" stroke="#2b4b8c" stroke-width="1.1" opacity="0.35"/><circle cx="1762.6" cy="925.7" r="5" fill="#4169aa" stroke="#2b4b8c" stroke-width="1.1" opacity="0.35"/><circle cx="1874" cy="919" r="5" fill="#4169aa" stroke="#2b4b8c" stroke-width="1.1" opacity="0.35"/><circle cx="1910.3" cy="914.2" r="5" fill="#4169aa" stroke="#2b4b8c" stroke-width="1.1" opacity="0.7"/><circle cx="1945.8" cy="915.6" r="5" fill="#4169aa" stroke="#2b4b8c" stroke-width="1.1"/><circle cx="1981.1" cy="918.5" r="5" fill="#4169aa" stroke="#2b4b8c" stroke-width="1.1"/><circle cx="1829.4" cy="929.7" r="5" fill="#4169aa" stroke="#2b4b8c" stroke-width="1.1"/>
<circle cx="1764.8" cy="761.5" r="39" fill="#d0d4ea" stroke="#22305f" stroke-width="3"/><text x="1764.8" y="768.7" font-size="20" fill="#1d5a8e" text-anchor="middle" font-weight="bold" textLength="64" lengthAdjust="spacingAndGlyphs" transform="rotate(-13 1764.8 761.5)">MCP-1</text>
<circle cx="1863.6" cy="694.7" r="37.8" fill="#d0d4ea" stroke="#22305f" stroke-width="3"/><text x="1863.6" y="701.9" font-size="20" fill="#1d5a8e" text-anchor="middle" font-weight="bold" textLength="64" lengthAdjust="spacingAndGlyphs" transform="rotate(14 1863.6 694.7)">MCP-1</text>
<circle cx="1941.8" cy="794.9" r="38" fill="#d0d4ea" stroke="#22305f" stroke-width="3"/><text x="1941.8" y="802.1" font-size="20" fill="#1d5a8e" text-anchor="middle" font-weight="bold" textLength="64" lengthAdjust="spacingAndGlyphs" transform="rotate(0 1941.8 794.9)">MCP-1</text>
<circle cx="1916.4" cy="793.5" r="5" fill="#4169aa" opacity="0.28"/><text x="1942.3" y="1019.2" font-size="38" fill="#c5372e" text-anchor="middle" font-weight="bold" textLength="283" lengthAdjust="spacingAndGlyphs">endothelial cells</text>
</svg>
</body></html>
